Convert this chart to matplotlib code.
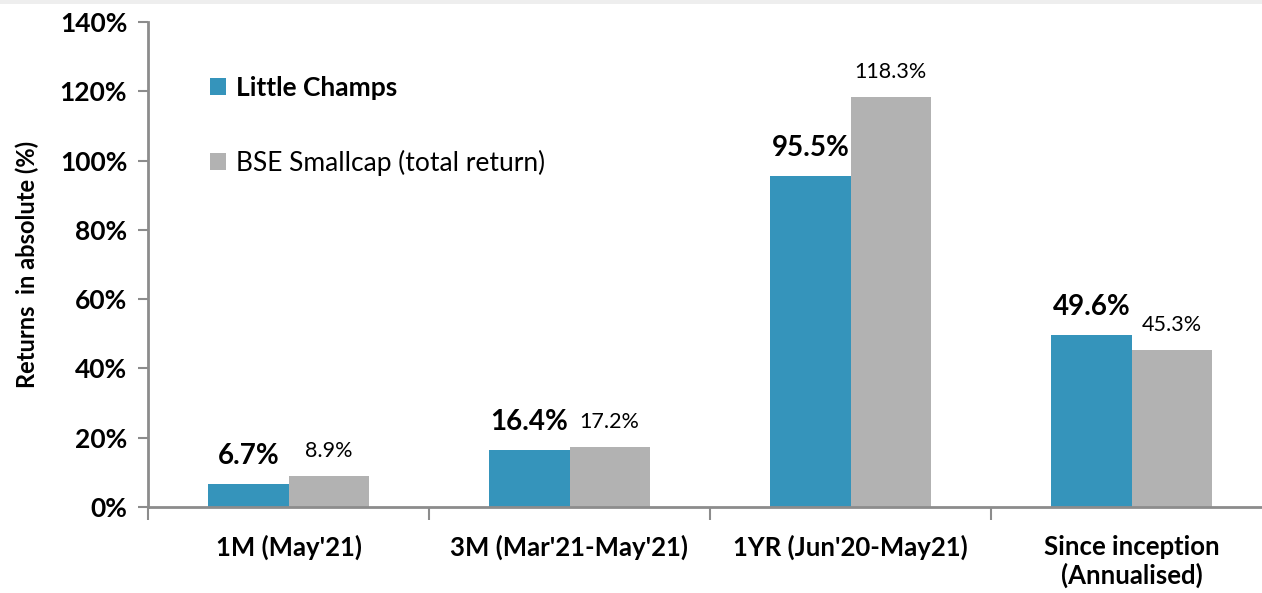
import matplotlib
matplotlib.use("Agg")
import matplotlib.pyplot as plt
import numpy as np

categories = ["1M (May'21)", "3M (Mar'21-May'21)", "1YR (Jun'20-May21)", "Since inception\n(Annualised)"]
little_champs = [6.7, 16.4, 95.5, 49.6]
bse_smallcap = [8.9, 17.2, 118.3, 45.3]
series_names = ["Little Champs", "BSE Smallcap (total return)"]
y_ticks = [0, 20, 40, 60, 80, 100, 120, 140]

plt.rcParams['font.family'] = ['Lato', 'DejaVu Sans']

teal = "#3594BB"
gray = "#B2B2B2"
spine = "#8C8C8C"

fig = plt.figure(figsize=(12.62, 5.93), dpi=100)
fig.patch.set_facecolor("white")
W, H = 1262, 593
ax = fig.add_axes([148 / W, (H - 507) / H, (1272 - 148) / W, (507 - 22) / H])
ax.set_facecolor("none")

x = np.arange(len(categories))
bw = 0.285
b1 = ax.bar(x - bw / 2, little_champs, bw, color=teal, label=series_names[0], zorder=2)
b2 = ax.bar(x + bw / 2, bse_smallcap, bw, color=gray, label=series_names[1], zorder=2)

for rect, v in zip(b1, little_champs):
    ax.annotate(f"{v:.1f}%", (rect.get_x() + rect.get_width() / 2, v),
                xytext=(0, 11), textcoords="offset points", ha="center", va="bottom",
                fontsize=20, fontweight="bold", color="black")
for rect, v in zip(b2, bse_smallcap):
    ax.annotate(f"{v:.1f}%", (rect.get_x() + rect.get_width() / 2, v),
                xytext=(0, 11), textcoords="offset points", ha="center", va="bottom",
                fontsize=15.5, color="black")

ax.set_xlim(-0.5, len(categories) - 0.5)
ax.set_ylim(0, 140)
ax.set_yticks(y_ticks)
ax.set_yticklabels([f"{t}%" for t in y_ticks], fontsize=19, fontweight="bold")
ax.set_xticks(x)
ax.set_xticklabels(categories, fontsize=18.5, fontweight="bold", linespacing=1.2)
ax.tick_params(axis="x", length=0, pad=20)
ax.tick_params(axis="y", length=7, width=1.5, color=spine, pad=8, direction="out")

ax.set_xticks(np.arange(len(categories) + 1) - 0.5, minor=True)
ax.tick_params(axis="x", which="minor", length=9, width=1.5, color=spine, direction="out")

for s in ["top", "right"]:
    ax.spines[s].set_visible(False)
for s in ["left", "bottom"]:
    ax.spines[s].set_color(spine)
    ax.spines[s].set_linewidth(2)

ax.set_ylabel("Returns  in absolute (%)", fontsize=17, fontweight="bold", labelpad=15)

leg = ax.legend(loc="upper left", bbox_to_anchor=(0.034, 0.938), frameon=False,
                fontsize=19, handlelength=0.6, handleheight=0.6, handletextpad=0.4,
                labelspacing=1.9)
leg.get_texts()[0].set_fontweight("bold")

fig.add_artist(plt.Rectangle((0, 1 - 4 / H), 1, 4 / H, transform=fig.transFigure,
                             color="#EEEEEE", lw=0))

fig.savefig("out.png", dpi=100)
